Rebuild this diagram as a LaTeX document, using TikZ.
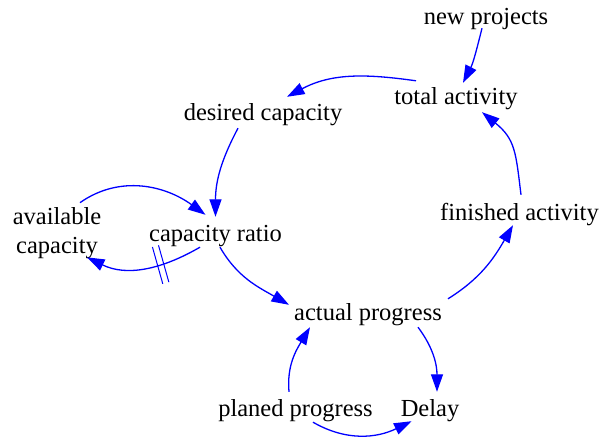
\documentclass[tikz,border=0pt]{standalone}
\usepackage{fontspec}
\setmainfont{Liberation Serif}
\usetikzlibrary{arrows.meta}

\begin{document}
\begin{tikzpicture}[x=1pt,y=1pt,
  var/.style={font=\fontsize{24.5}{29}\selectfont,inner sep=0pt,text height=19pt,text depth=3pt},
  var2/.style={font=\fontsize{24.5}{29}\selectfont,inner sep=0pt,align=center},
  link/.style={blue,line width=1.3pt,-{Triangle[length=17.5pt,width=12pt]}},
  delaymark/.style={sloped,inner sep=0pt,minimum width=5pt,minimum height=37pt}]
  \useasboundingbox (0,0) rectangle (600,440);
  % Variables
  \node[var] (newp) at (486,423) {new projects};
  \node[var] (total) at (456,343) {total activity};
  \node[var] (desired) at (263,327) {desired capacity};
  \node[var] (ratio) at (215.5,207) {capacity ratio};
  \node[var2] (avail) at (57,207) {available\\capacity};
  \node[var] (finished) at (519.5,228) {finished activity};
  \node[var] (actual) at (368,128) {actual progress};
  \node[var] (planned) at (295.5,32) {planed progress};
  \node[var] (delay) at (430,32) {Delay};
  % Upper loop
  \draw[link] ([xshift=-4]newp.south) to[out=-104,in=63] ([shift={(7,3)}]total.north);
  \draw[link] ([shift={(-40,5)}]total.north) to[out=172,in=28] ([shift={(24,5)}]desired.north);
  \draw[link] ([shift={(-25,-4)}]desired.south) to[out=-118,in=90] ([yshift=5]ratio.north);
  \draw[link] ([shift={(4.5,-3)}]ratio.south) to[out=-60,in=150] ([shift={(-5,-4)}]actual.north west);
  \draw[link] ([shift={(6,2)}]actual.north east) to[out=32,in=240] ([shift={(-6.5,-2)}]finished.south);
  \draw[link] ([shift={(1.5,6)}]finished.north) to[out=97,in=-39,looseness=1.2] ([shift={(26,-4)}]total.south);
  % Capacity loop, with a delay on the way back
  \draw[link] ([shift={(23,4.5)}]avail.north) to[out=35,in=144] ([shift={(-10,7)}]ratio.north);
  \draw[link] ([shift={(-15.5,-3)}]ratio.south) to[out=210,in=-26]
    node[delaymark,pos=0.35] (dmk) {} ([shift={(30,1.5)}]avail.south);
  \draw[blue,line width=1pt] (dmk.north west) -- (dmk.south west)
    (dmk.north east) -- (dmk.south east);
  % Progress loop
  \draw[link] ([shift={(50,-4)}]actual.south) to[out=-53,in=90] ([shift={(7,5)}]delay.north);
  \draw[link] ([shift={(-6.5,5)}]planned.north) to[out=95,in=239] ([shift={(-58,-4)}]actual.south);
  \draw[link] ([shift={(17.5,-3)}]planned.south) to[out=-30,in=206] ([shift={(11,-2)}]delay.south west);
\end{tikzpicture}
\end{document}
